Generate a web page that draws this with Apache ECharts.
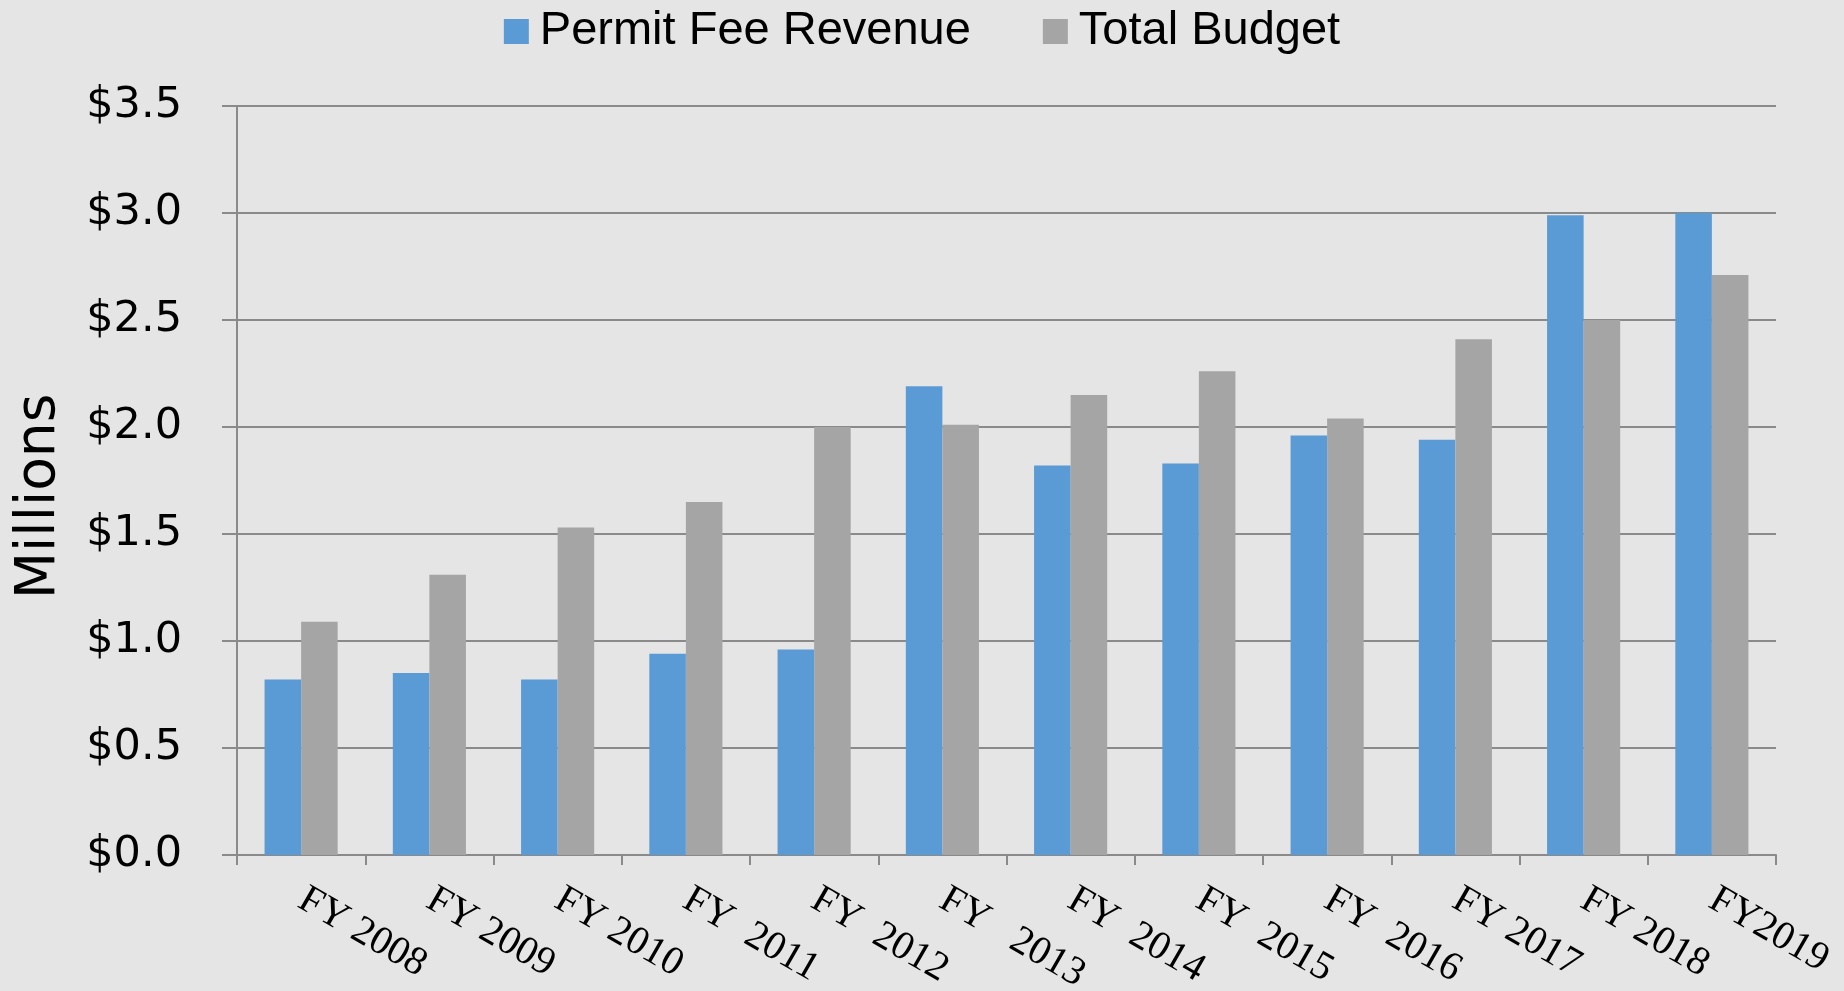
<!DOCTYPE html>
<html>
<head>
<meta charset="utf-8">
<script src="https://cdn.jsdelivr.net/npm/echarts@6/dist/echarts.min.js"></script>
<style>
html,body{margin:0;padding:0;background:#e5e5e5;}
#chart{width:1844px;height:991px;}
</style>
</head>
<body>
<div id="chart"></div>
<script>
const categories = ["FY 2008","FY 2009","FY 2010","FY  2011","FY  2012","FY   2013","FY  2014","FY  2015","FY  2016","FY 2017","FY 2018","FY2019"];
const permitFeeRevenue = [0.82, 0.85, 0.82, 0.94, 0.96, 2.19, 1.82, 1.83, 1.96, 1.94, 2.99, 3.00];
const totalBudget = [1.09, 1.31, 1.53, 1.65, 2.00, 2.01, 2.15, 2.26, 2.04, 2.41, 2.50, 2.71];
const seriesNames = ["Permit Fee Revenue", "Total Budget"];
const yAxisName = "Millions";

const chart = echarts.init(document.getElementById('chart'));
chart.setOption({
  backgroundColor: '#e5e5e5',
  animation: false,
  legend: {
    top: 3,
    left: 'center',
    itemWidth: 25,
    itemHeight: 25,
    itemGap: 72,
    icon: 'rect',
    textStyle: {fontFamily: 'Liberation Sans', fontSize: 47, color: '#000', padding: [0,0,0,6]},
    data: seriesNames
  },
  grid: {left: 237, right: 68, top: 106, bottom: 136, containLabel: false, outerBoundsMode: 'none'},
  xAxis: {
    type: 'category',
    data: categories,
    boundaryGap: true,
    axisLine: {lineStyle: {color: '#8a8a8a', width: 2}},
    axisTick: {show: true, length: 10, lineStyle: {color: '#8a8a8a', width: 2}},
    axisLabel: {
      rotate: -30,
      interval: 0,
      margin: 42,
      fontFamily: 'Liberation Serif',
      fontSize: 40,
      color: '#000'
    }
  },
  yAxis: {
    type: 'value',
    min: 0,
    max: 3.5,
    interval: 0.5,
    name: yAxisName,
    nameLocation: 'middle',
    nameGap: 170,
    nameRotate: 90,
    nameTextStyle: {fontFamily: 'DejaVu Sans', fontSize: 55, color: '#000', padding: [0, 32, 0, 0]},
    axisLine: {show: true, lineStyle: {color: '#8a8a8a', width: 2}},
    axisTick: {show: true, length: 15, lineStyle: {color: '#8a8a8a', width: 2}},
    splitLine: {show: true, lineStyle: {color: '#8a8a8a', width: 2}},
    axisLabel: {
      margin: 55,
      fontFamily: 'DejaVu Sans',
      fontSize: 43,
      color: '#000',
      formatter: v => '$' + v.toFixed(1)
    }
  },
  series: [
    {
      name: seriesNames[0],
      type: 'bar',
      data: permitFeeRevenue,
      barGap: '0%',
      barCategoryGap: '43%',
      itemStyle: {color: '#5b9bd5'}
    },
    {
      name: seriesNames[1],
      type: 'bar',
      data: totalBudget,
      barGap: '0%',
      barCategoryGap: '43%',
      itemStyle: {color: '#a5a5a5'}
    }
  ]
});
</script>
</body>
</html>
